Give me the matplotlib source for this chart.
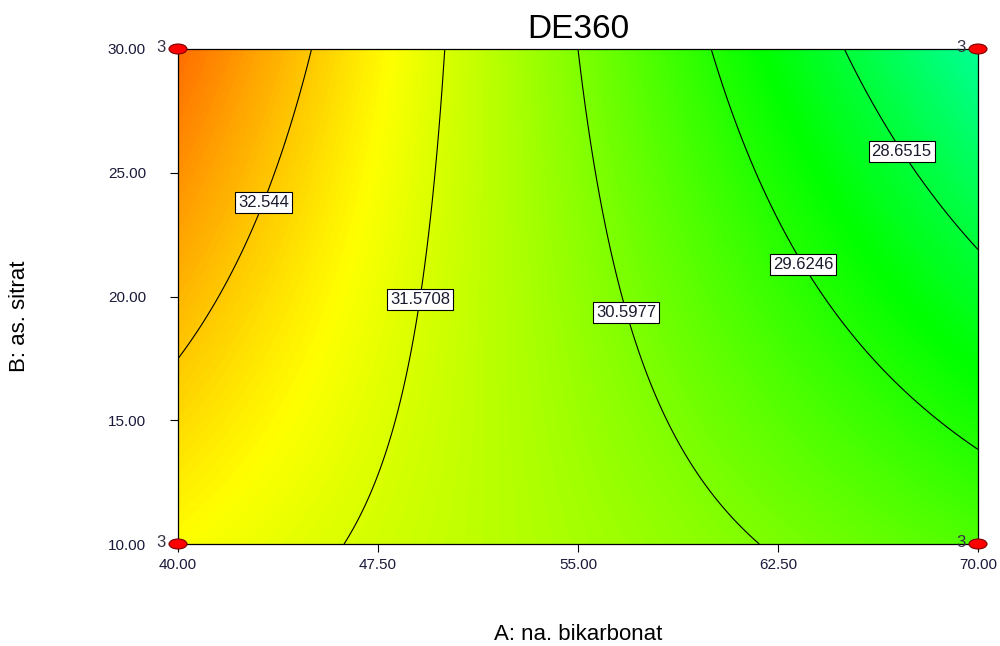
import numpy as np
import matplotlib.pyplot as plt
from matplotlib.colors import ListedColormap, hsv_to_rgb
from matplotlib.patches import Ellipse

# fitted response model in coded units (x = A coded, y = B coded)
# DE360 = b0 + bA*x + bB*y + bAB*x*y
b0 = 30.81
bA = -1.93
bB = -0.2125
bAB = -0.9925

a_range = [40.0, 70.0]
b_range = [10.0, 30.0]
a_ticks = [40.0, 47.5, 55.0, 62.5, 70.0]
b_ticks = [10.0, 15.0, 20.0, 25.0, 30.0]

levels = [28.6515, 29.6246, 30.5977, 31.5708, 32.544]

# design points and their replicate counts
design_a = [40.0, 40.0, 70.0, 70.0]
design_b = [10.0, 30.0, 10.0, 30.0]
design_n = ["3", "3", "3", "3"]

# where the contour labels sit
label_pos = [(67.6, 26.2), (63.55, 21.35), (56.84, 19.37), (48.89, 19.90), (43.07, 23.86)]

# colour scale (blue -> red by hue)
vmin, vmax = 23.79, 34.70


def model(a, b):
    x = (a - 55.0) / 15.0
    y = (b - 20.0) / 10.0
    return b0 + bA * x + bB * y + bAB * x * y


hues = np.linspace(240, 0, 256) / 360.0
cmap = ListedColormap(hsv_to_rgb(np.stack([hues, np.ones(256), np.ones(256)], axis=1)))

A, B = np.meshgrid(np.linspace(*a_range, 400), np.linspace(*b_range, 300))
Z = model(A, B)

fig = plt.figure(figsize=(10, 6.46), dpi=100)
ax = fig.add_axes([0.178, 1 - 544 / 646, 0.8, 495 / 646])

ax.imshow(Z, extent=[*a_range, *b_range], origin="lower", aspect="auto",
          cmap=cmap, vmin=vmin, vmax=vmax, interpolation="bilinear")
cs = ax.contour(A, B, Z, levels=levels, colors="black", linewidths=0.8)
labels = ax.clabel(cs, fmt=lambda v: f"{v:g}", fontsize=12, inline=False,
                   manual=label_pos)
for t in labels:
    t.set_rotation(0)
    t.set_color("#1a1a2e")
    t.set_family("Liberation Sans")
    t.set_bbox(dict(facecolor="white", edgecolor="black", linewidth=0.8, pad=2.2))

for a, b, n in zip(design_a, design_b, design_n):
    ax.add_patch(Ellipse((a, b), 0.675, 0.404, facecolor="#ff0000",
                         edgecolor="#7a0000", linewidth=0.8, zorder=10, clip_on=False))
    ax.annotate(n, (a, b), xytext=(-12.5, 1), textcoords="offset points",
                ha="center", va="center", fontsize=12, color="#333344",
                family="Liberation Sans", zorder=9, annotation_clip=False)

ax.set_xlim(*a_range)
ax.set_ylim(*b_range)
ax.set_xticks(a_ticks)
ax.set_yticks(b_ticks)
ax.set_xticklabels([f"{v:.2f}" for v in a_ticks], family="Liberation Sans",
                   fontsize=11, color="#1a1a3a")
ax.set_yticklabels([f"{v:.2f}" for v in b_ticks], family="Liberation Sans",
                   fontsize=11, color="#1a1a3a")
ax.tick_params(axis="x", direction="out", length=6, width=0.8, pad=4)
ax.tick_params(axis="y", direction="out", length=6, width=0.8, pad=17)
for s in ax.spines.values():
    s.set_linewidth(0.9)

fig.text(0.578, 1 - 30 / 646, "DE360", ha="center", va="center",
         fontsize=24, family="Liberation Sans")
fig.text(0.578, 1 - 635 / 646, "A: na. bikarbonat", ha="center", va="center",
         fontsize=16, family="Liberation Sans")
fig.text(0.020, 1 - 316 / 646, "B: as. sitrat", ha="center", va="center",
         rotation=90, fontsize=16, family="Liberation Sans")

fig.savefig("out.png", dpi=100)
